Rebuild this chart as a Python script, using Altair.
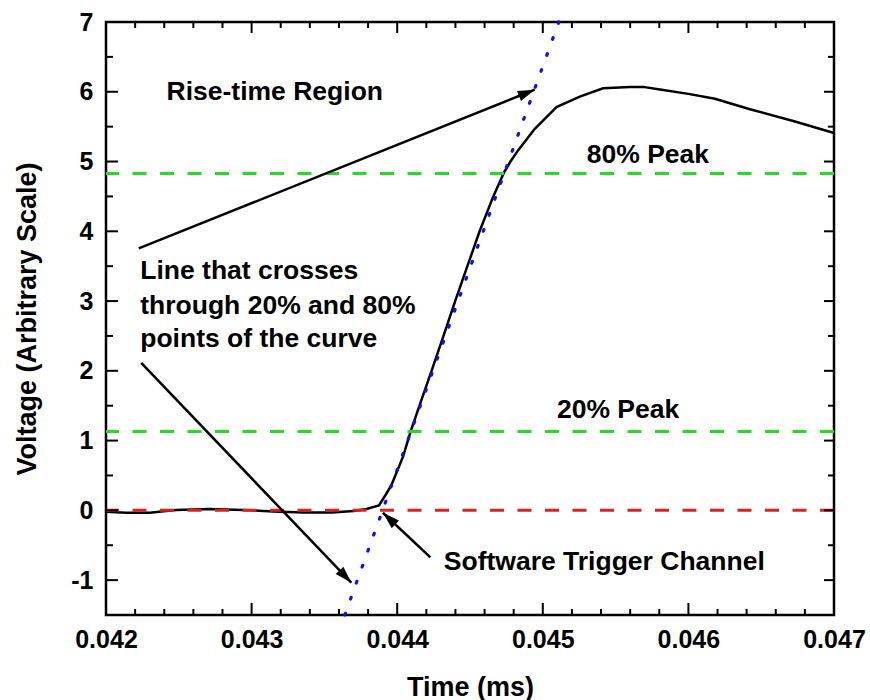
import math
import altair as alt
import pandas as pd

# ---------------- data ----------------
curve_t = [0.04200, 0.04214, 0.04230, 0.04248, 0.04271, 0.04294, 0.04315, 0.04335,
           0.04355, 0.04370, 0.04379, 0.043875, 0.04392, 0.04396, 0.04404, 0.044093,
           0.044153, 0.044236, 0.044318, 0.044398, 0.044482, 0.044566, 0.044660, 0.044733,
           0.044778, 0.044830, 0.044945, 0.045094, 0.045254, 0.045414, 0.045598, 0.045689,
           0.045816, 0.046000, 0.046182, 0.046423, 0.046720, 0.047000]
curve_v = [-0.02, -0.035, -0.035, 0.005, 0.02, 0.005, -0.015, -0.03,
           -0.03, -0.01, 0.02, 0.07, 0.22, 0.36, 0.77, 1.136,
           1.50, 2.00, 2.50, 3.00, 3.50, 4.00, 4.50, 4.84,
           5.00, 5.16, 5.47, 5.78, 5.93, 6.05, 6.07, 6.07,
           6.03, 5.97, 5.90, 5.75, 5.58, 5.41]

# line through the 20% and 80% points
fit_t = [0.04364, 0.04511]
fit_v = [-1.5, 7.0]

# reference levels
peak_levels = [4.83, 1.13]   # 80% and 20% peak
trigger_level = [0.0]

# annotations
label_text = ["Rise-time Region", "Line that crosses", "through 20% and 80%",
              "points of the curve", "80% Peak", "20% Peak", "Software Trigger Channel"]
label_t = [0.042416, 0.042235, 0.042235, 0.042235, 0.045302, 0.045097, 0.044320]
label_v = [6.00, 3.43, 2.93, 2.45, 5.10, 1.44, -0.745]

arrow_t1 = [0.042225, 0.042242, 0.044228]
arrow_v1 = [3.754, 2.115, -0.673]
arrow_t2 = [0.044945, 0.043685, 0.043902]
arrow_v2 = [6.03, -1.037, -0.034]

x_major = [0.042, 0.043, 0.044, 0.045, 0.046, 0.047]
x_minor = [0.0422, 0.0424, 0.0426, 0.0428, 0.0432, 0.0434, 0.0436, 0.0438,
           0.0442, 0.0444, 0.0446, 0.0448, 0.0452, 0.0454, 0.0456, 0.0458,
           0.0462, 0.0464, 0.0466, 0.0468]
y_major = [-1, 0, 1, 2, 3, 4, 5, 6, 7]
y_minor = [-0.5, 0.5, 1.5, 2.5, 3.5, 4.5, 5.5, 6.5]

# ---------------- layout ----------------
W, H = 728, 593
XD = [0.042, 0.047]
YD = [-1.5, 7.0]
FONT = "Liberation Sans"
TXT = 26.5

xs = alt.Scale(domain=XD, nice=False, zero=False)
ys = alt.Scale(domain=YD, nice=False, zero=False)

XAX = alt.Axis(values=x_major, format=".3f", ticks=False, domain=False,
               grid=False, labelFont=FONT, labelFontWeight="bold",
               labelFontSize=25, labelColor="black", labelPadding=12,
               labelOverlap=False, labelFlush=False,
               titleFont=FONT, titleFontWeight="bold", titleFontSize=27,
               titleColor="black", titleY=72, titleBaseline="middle")
YAX = alt.Axis(values=y_major, ticks=False, domain=False,
               labelExpr="datum.value < 0 ? '-' + format(-datum.value, 'd') : format(datum.value, 'd')",
               grid=False, labelFont=FONT, labelFontWeight="bold",
               labelFontSize=25, labelColor="black", labelPadding=13,
               labelOverlap=False, labelFlush=False,
               titleFont=FONT, titleFontWeight="bold", titleFontSize=27,
               titleColor="black", titleX=-79, titleBaseline="middle")


def X(f):
    return alt.X(f, type="quantitative", scale=xs, axis=XAX, title="Time (ms)")


def Y(f):
    return alt.Y(f, type="quantitative", scale=ys, axis=YAX,
                 title="Voltage (Arbitrary Scale)")


def screen_angle(t1, v1, t2, v2):
    dx = (t2 - t1) / (XD[1] - XD[0]) * W
    dy = -(v2 - v1) / (YD[1] - YD[0]) * H
    return math.degrees(math.atan2(dy, dx)) % 360


curve_df = pd.DataFrame({"t": curve_t, "v": curve_v})
fit_df = pd.DataFrame({"t": fit_t, "v": fit_v})
peak_df = pd.DataFrame({"v": peak_levels})
trig_df = pd.DataFrame({"v": trigger_level})
label_df = pd.DataFrame({"text": label_text, "t": label_t, "v": label_v})
arrow_df = pd.DataFrame({"t": arrow_t1, "v": arrow_v1, "t2": arrow_t2, "v2": arrow_v2})
arrow_df["ang"] = [screen_angle(a, b, c, d) for a, b, c, d in
                   zip(arrow_t1, arrow_v1, arrow_t2, arrow_v2)]
head_df = pd.DataFrame({"t": arrow_t2, "v": arrow_v2, "ang": arrow_df["ang"]})

curve = alt.Chart(curve_df).mark_line(color="black", strokeWidth=2.5).encode(
    x=X("t"), y=Y("v"), order=alt.Order("t:Q"))

peaks = alt.Chart(peak_df).mark_rule(color="#22dd22", strokeWidth=3,
                                     strokeDash=[14, 13.5]).encode(y=Y("v"))
trig = alt.Chart(trig_df).mark_rule(color="#e02020", strokeWidth=3,
                                    strokeDash=[14, 13.5]).encode(y=Y("v"))

fit = alt.Chart(fit_df).mark_line(color="#1010e8", strokeWidth=3.2, strokeDash=[1.8, 15.2],
                                  strokeCap="round").encode(x=X("t"), y=Y("v"))

arrow_lines = alt.Chart(arrow_df).mark_rule(color="black", strokeWidth=2.5).encode(
    x=X("t"), y=Y("v"), x2="t2:Q", y2="v2:Q")

arrow_heads = alt.Chart(head_df).mark_point(
    shape="M0,0L-2,-0.62L-2,0.62Z", filled=True, fill="black",
    opacity=1, size=289, strokeWidth=0).encode(
    x=X("t"), y=Y("v"), angle=alt.Angle("ang:Q", scale=None))

labels = alt.Chart(label_df).mark_text(font=FONT, fontWeight="bold", fontSize=TXT,
                                        align="left", baseline="middle",
                                        color="black").encode(
    x=X("t"), y=Y("v"), text="text:N")


# inward ticks on all four sides
def xticks(vals, length, top):
    df = pd.DataFrame({"t": vals})
    if top:
        yy, yy2 = alt.value(0), alt.value(length)
    else:
        yy, yy2 = alt.value(H), alt.value(H - length)
    return alt.Chart(df).mark_rule(color="black", strokeWidth=2).encode(
        x=X("t"), y=yy, y2=yy2)


def yticks(vals, length, right):
    df = pd.DataFrame({"v": vals})
    if right:
        xx, xx2 = alt.value(W), alt.value(W - length)
    else:
        xx, xx2 = alt.value(0), alt.value(length)
    return alt.Chart(df).mark_rule(color="black", strokeWidth=2).encode(
        y=Y("v"), x=xx, x2=xx2)


ticks = [xticks(x_major, 12, False), xticks(x_minor, 6, False),
         xticks(x_major, 11, True), xticks(x_minor, 6, True),
         yticks(y_major, 12, False), yticks(y_minor, 7, False),
         yticks(y_major, 10, True), yticks(y_minor, 6, True)]

chart = alt.layer(curve, peaks, trig, fit, arrow_lines, arrow_heads, labels, *ticks).properties(
    width=W, height=H,
    autosize=alt.AutoSizeParams(type="none"),
    padding={"left": 106, "top": 22, "right": 36, "bottom": 85},
    background="white",
).configure_view(stroke="black", strokeWidth=2.5)

chart.save("out.html", embed_options={"renderer": "svg", "actions": False})
